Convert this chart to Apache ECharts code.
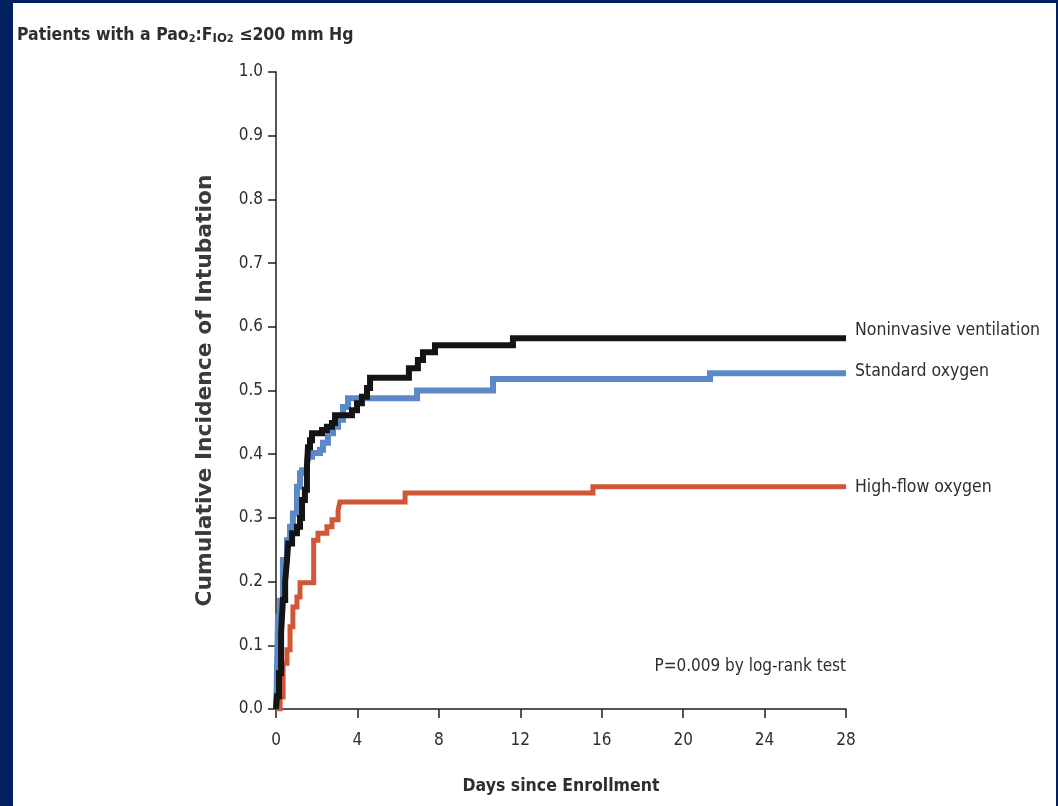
<!DOCTYPE html>
<html>
<head>
<meta charset="utf-8">
<script src="https://cdn.jsdelivr.net/npm/echarts@6/dist/echarts.min.js"></script>
<style>
html,body{margin:0;padding:0;background:#fff;}
#chart{width:1058px;height:806px;}
</style>
</head>
<body>
<div id="chart"></div>
<script>
// ---- data (days since enrollment, cumulative incidence) ----
const seriesNames = ['High-flow oxygen', 'Standard oxygen', 'Noninvasive ventilation'];
const highFlow = [[0,0],[0.2,0.019],[0.35,0.072],[0.54,0.093],[0.69,0.129],[0.83,0.16],[1.03,0.176],[1.18,0.198],[1.85,0.265],[2.06,0.276],[2.5,0.286],[2.75,0.297],[3.05,0.312],[3.14,0.325],[6.34,0.339],[15.57,0.349],[28,0.349]];
const standardOxygen = [[0,0],[0.03,0.03],[0.1,0.145],[0.2,0.17],[0.34,0.234],[0.54,0.265],[0.69,0.286],[0.83,0.307],[1.03,0.349],[1.18,0.37],[1.28,0.375],[1.52,0.386],[1.57,0.396],[1.77,0.402],[2.16,0.407],[2.31,0.418],[2.55,0.433],[2.8,0.443],[3.05,0.454],[3.29,0.474],[3.54,0.488],[6.93,0.5],[10.66,0.518],[21.32,0.527],[28,0.527]];
const noninvasive = [[0,0],[0.05,0.02],[0.15,0.056],[0.25,0.119],[0.34,0.171],[0.45,0.2],[0.54,0.234],[0.6,0.26],[0.79,0.276],[1.03,0.286],[1.18,0.3],[1.28,0.328],[1.42,0.344],[1.52,0.38],[1.57,0.411],[1.67,0.422],[1.77,0.433],[2.26,0.438],[2.5,0.443],[2.75,0.449],[2.9,0.461],[3.73,0.469],[3.98,0.48],[4.22,0.49],[4.47,0.504],[4.62,0.52],[6.53,0.535],[6.97,0.548],[7.22,0.56],[7.81,0.571],[11.64,0.582],[28,0.582]];
const xTicks = [0,4,8,12,16,20,24,28];
const yTicks = [0.0,0.1,0.2,0.3,0.4,0.5,0.6,0.7,0.8,0.9,1.0];
const titleText = 'Patients with a Pao{sub|2}:F{sc|IO}{sub|2} ≤200 mm Hg';
const xName = 'Days since Enrollment';
const yName = 'Cumulative Incidence of Intubation';
const pText = 'P=0.009 by log-rank test';

const NARROW = "'DejaVu Sans Condensed','Liberation Sans Narrow',sans-serif";
const TXT = '#2e2e2e';
const NAVY = '#00205f';

const chart = echarts.init(document.getElementById('chart'), null, {renderer:'canvas'});

function kmSeries(name, data, color, width, dy) {
  return {
    name: name, type: 'line', step: 'end', data: data,
    symbol: 'none', silent: true, animation: false,
    lineStyle: {color: color, width: width, cap: 'butt', join: 'miter'},
    endLabel: {show: true, formatter: '{a}', distance: 9, offset: [0, dy],
      color: TXT, fontFamily: NARROW, fontSize: 17.5}
  };
}

chart.setOption({
  backgroundColor: '#fff',
  animation: false,
  title: {
    text: titleText, left: 12, top: 21,
    textStyle: {fontFamily: NARROW, fontWeight: 'bold', fontSize: 17.5, color: TXT,
      rich: {
        sub: {fontFamily: NARROW, fontWeight: 'bold', fontSize: 11, color: TXT, verticalAlign: 'bottom', padding: [8,0,0,0]},
        sc: {fontFamily: NARROW, fontWeight: 'bold', fontSize: 13, color: TXT, verticalAlign: 'bottom', padding:[3,0,0,0]}
      }}
  },
  grid: {left: 276, right: 212, top: 72, bottom: 97, containLabel: false},
  xAxis: {
    type: 'value', min: 0, max: 28, interval: 4,
    name: xName, nameLocation: 'middle', nameGap: 68,
    nameTextStyle: {fontFamily: NARROW, fontWeight: 'bold', fontSize: 17.5, color: TXT},
    axisLine: {show: true, onZero: false, lineStyle: {color: '#1e1e1e', width: 1.5}},
    axisTick: {show: true, length: 9, lineStyle: {color: '#1e1e1e', width: 1.5}},
    axisLabel: {margin: 23, fontFamily: NARROW, fontSize: 17, color: TXT,
      customValues: xTicks, formatter: v => String(v)},
    splitLine: {show: false}
  },
  yAxis: {
    type: 'value', min: 0, max: 1, interval: 0.1,
    name: yName, nameLocation: 'middle', nameGap: 60, nameRotate: 90,
    nameTextStyle: {fontFamily: "'DejaVu Sans',sans-serif", fontWeight: 'bold', fontSize: 21.8, color: '#3a3a3a'},
    axisLine: {show: true, onZero: false, lineStyle: {color: '#1e1e1e', width: 1.5}},
    axisTick: {show: true, length: 8, lineStyle: {color: '#1e1e1e', width: 1.5}},
    axisLabel: {margin: 13, fontFamily: NARROW, fontSize: 17, color: TXT,
      formatter: v => v.toFixed(1)},
    splitLine: {show: false}
  },
  series: [
    kmSeries(seriesNames[0], highFlow, '#cf5736', 5, 1),
    kmSeries(seriesNames[1], standardOxygen, '#5b89c7', 6, -2),
    kmSeries(seriesNames[2], noninvasive, '#141414', 6, -8)
  ],
  graphic: [
    {type: 'text', right: 212, top: 658, z: 10,
      style: {text: pText, fontFamily: NARROW, fontSize: 17, fill: TXT}},
    {type: 'rect', left: 0, top: 0, z: 100, shape: {width: 13, height: 806}, style: {fill: NAVY}},
    {type: 'rect', left: 0, top: 0, z: 100, shape: {width: 1058, height: 3}, style: {fill: NAVY}},
    {type: 'rect', left: 1056, top: 0, z: 100, shape: {width: 2, height: 806}, style: {fill: NAVY}}
  ]
});
</script>
</body>
</html>
